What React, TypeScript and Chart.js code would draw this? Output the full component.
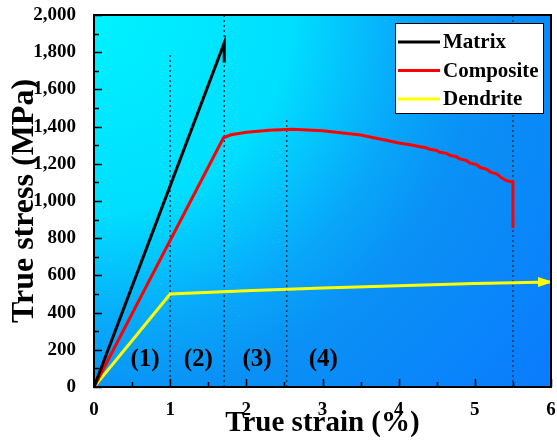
import React, { useEffect, useRef } from 'react';
import { Chart, registerables } from 'chart.js';

Chart.register(...registerables);

// ---- data ----
const matrixStrain = [0, 1.71, 1.71];
const matrixStress = [0, 1850, 1745];

const compositeStrain = [0, 1.7, 1.8, 2.0, 2.3, 2.6, 3.0, 3.5, 4.02, 4.15, 4.28, 4.36, 4.41, 4.5, 4.54, 4.63, 4.67, 4.76, 4.8, 4.89, 4.93, 5.02, 5.07, 5.16, 5.2, 5.29, 5.33, 5.4, 5.45, 5.5, 5.5];
const compositeStress = [0, 1340, 1356, 1370, 1381, 1386, 1378, 1355, 1310, 1302, 1292, 1286, 1278, 1272, 1262, 1256, 1246, 1238, 1226, 1218, 1205, 1196, 1180, 1170, 1156, 1145, 1131, 1112, 1106, 1102, 853];

const dendriteStrain = [0, 1, 2, 3, 4, 5, 6];
const dendriteStress = [0, 500, 518, 532, 545, 556, 565];

const boundaryStrain = [1, 1.71, 2.53, 5.5];
const boundaryTop = [1800, 2000, 1450, 2000];

const regionLabels = ['(1)', '(2)', '(3)', '(4)'];
const regionLabelStrain = [0.67, 1.37, 2.14, 3.01];
const regionLabelStress = [145, 145, 145, 145];

const seriesNames = ['Matrix', 'Composite', 'Dendrite'];
const seriesColors = ['#000000', '#ff0000', '#ffff00'];

const xMin = 0, xMax = 6, xStep = 1, xMinor = 0.5;
const yMin = 0, yMax = 2000, yStep = 200, yMinor = 100;

const SERIF = "'Liberation Serif', 'Times New Roman', serif";

export default function App() {
  const ref = useRef<HTMLCanvasElement>(null);

  useEffect(() => {
    document.body.style.margin = '0';
    const canvas = ref.current!;
    const mk = (xs: number[], ys: number[]) => xs.map((x, i) => ({ x, y: ys[i] }));

    const bgPlugin = {
      id: 'bgGradient',
      beforeDatasetsDraw(chart: any) {
        const { ctx, chartArea: a } = chart;
        const g = ctx.createRadialGradient(a.left, a.top, 0, a.left, a.top, 600);
        g.addColorStop(0, 'rgb(0,242,255)');
        g.addColorStop(0.33, 'rgb(0,222,255)');
        g.addColorStop(0.52, 'rgb(8,168,250)');
        g.addColorStop(0.64, 'rgb(10,145,245)');
        g.addColorStop(1, 'rgb(10,122,255)');
        ctx.save();
        ctx.fillStyle = g;
        ctx.fillRect(a.left, a.top, a.right - a.left, a.bottom - a.top);
        ctx.restore();
      },
    };

    const framePlugin = {
      id: 'frame',
      afterDatasetsDraw(chart: any) {
        const { ctx, chartArea: a, scales } = chart;
        const xs = scales.x, ys = scales.y;
        ctx.save();
        // arrow head on dendrite
        const meta = chart.getDatasetMeta(2);
        const last = meta.data[meta.data.length - 1];
        ctx.fillStyle = seriesColors[2];
        ctx.beginPath();
        ctx.moveTo(last.x + 2, last.y);
        ctx.lineTo(last.x - 13, last.y - 5);
        ctx.lineTo(last.x - 13, last.y + 5);
        ctx.closePath();
        ctx.fill();

        // region labels
        ctx.fillStyle = '#000';
        ctx.font = `bold 25px ${SERIF}`;
        ctx.textAlign = 'center';
        ctx.textBaseline = 'middle';
        regionLabels.forEach((t, i) => {
          ctx.fillText(t, xs.getPixelForValue(regionLabelStrain[i]), ys.getPixelForValue(regionLabelStress[i]));
        });

        // inward ticks
        ctx.strokeStyle = '#000';
        ctx.lineWidth = 1.5;
        ctx.beginPath();
        for (let v = xMin; v <= xMax + 1e-9; v += xMinor) {
          const px = Math.round(xs.getPixelForValue(v)) + 0.5;
          const major = Math.abs(v / xStep - Math.round(v / xStep)) < 1e-6;
          ctx.moveTo(px, a.bottom);
          ctx.lineTo(px, a.bottom - (major ? 8 : 5));
        }
        for (let v = yMin; v <= yMax + 1e-9; v += yMinor) {
          const py = Math.round(ys.getPixelForValue(v)) + 0.5;
          const major = Math.abs(v / yStep - Math.round(v / yStep)) < 1e-6;
          ctx.moveTo(a.left, py);
          ctx.lineTo(a.left + (major ? 8 : 5), py);
        }
        ctx.stroke();
        // border
        ctx.lineWidth = 2;
        ctx.strokeRect(a.left, a.top, a.right - a.left, a.bottom - a.top);

        // legend box
        const lw = 148, lh = 90;
        const lx = a.right - 8 - lw, ly = a.top + 8;
        ctx.fillStyle = '#fff';
        ctx.fillRect(lx, ly, lw, lh);
        ctx.lineWidth = 1;
        ctx.strokeStyle = '#000';
        ctx.strokeRect(lx + 0.5, ly + 0.5, lw, lh);
        ctx.font = `bold 21px ${SERIF}`;
        ctx.textAlign = 'left';
        seriesNames.forEach((name, i) => {
          const cy = ly + 19 + i * 28.5;
          ctx.strokeStyle = seriesColors[i];
          ctx.lineWidth = 3;
          ctx.beginPath();
          ctx.moveTo(lx + 3, cy);
          ctx.lineTo(lx + 45, cy);
          ctx.stroke();
          ctx.fillStyle = '#000';
          ctx.fillText(name, lx + 48, cy + 1);
        });
        ctx.restore();
      },
    };

    const boundaryDatasets = boundaryStrain.map((s, i) => ({
      label: 'boundary' + i,
      data: mk([s, s], [0, boundaryTop[i]]),
      borderColor: '#1d3d5c',
      borderWidth: 1.5,
      borderDash: [2, 3],
      pointRadius: 0,
      order: 10,
    }));

    const chart = new Chart(canvas, {
      type: 'line',
      data: {
        datasets: [
          { label: seriesNames[0], data: mk(matrixStrain, matrixStress), borderColor: seriesColors[0], borderWidth: 3, pointRadius: 0, order: 1 },
          { label: seriesNames[1], data: mk(compositeStrain, compositeStress), borderColor: seriesColors[1], borderWidth: 3, pointRadius: 0, order: 2 },
          { label: seriesNames[2], data: mk(dendriteStrain, dendriteStress), borderColor: seriesColors[2], borderWidth: 3, pointRadius: 0, order: 3 },
          ...boundaryDatasets,
        ] as any,
      },
      options: {
        responsive: false,
        animation: false,
        layout: { padding: { top: 15, right: 6, left: 0, bottom: 0 } },
        plugins: { legend: { display: false }, tooltip: { enabled: false } },
        scales: {
          x: {
            type: 'linear',
            min: xMin,
            max: xMax,
            grid: { display: false },
            border: { display: false },
            ticks: { stepSize: xStep, color: '#000', font: { family: SERIF, size: 19, weight: 'bold' }, padding: 4, maxRotation: 0, callback: (v: any) => String(v) },
            title: { display: true, text: 'True strain (%)', color: '#000', font: { family: SERIF, size: 29, weight: 'bold' }, padding: { top: 0, bottom: 0 } },
            afterFit: (s: any) => { s.height = 54; s.paddingLeft = 0; s.paddingRight = 0; },
          },
          y: {
            type: 'linear',
            min: yMin,
            max: yMax,
            grid: { display: false },
            border: { display: false },
            ticks: { stepSize: yStep, color: '#000', font: { family: SERIF, size: 19, weight: 'bold' }, padding: 10, callback: (v: any) => Number(v).toLocaleString('en-US') },
            title: { display: true, text: 'True stress (MPa)', color: '#000', font: { family: SERIF, size: 32, weight: 'bold' }, padding: { top: 6, bottom: 0 } },
            afterFit: (s: any) => { s.width = 94; s.paddingTop = 0; s.paddingBottom = 0; },
          },
        },
      } as any,
      plugins: [bgPlugin, framePlugin],
    });
    return () => chart.destroy();
  }, []);

  return (
    <div style={{ width: 557, height: 441 }}>
      <canvas ref={ref} width={557} height={441} style={{ display: 'block' }} />
    </div>
  );
}
